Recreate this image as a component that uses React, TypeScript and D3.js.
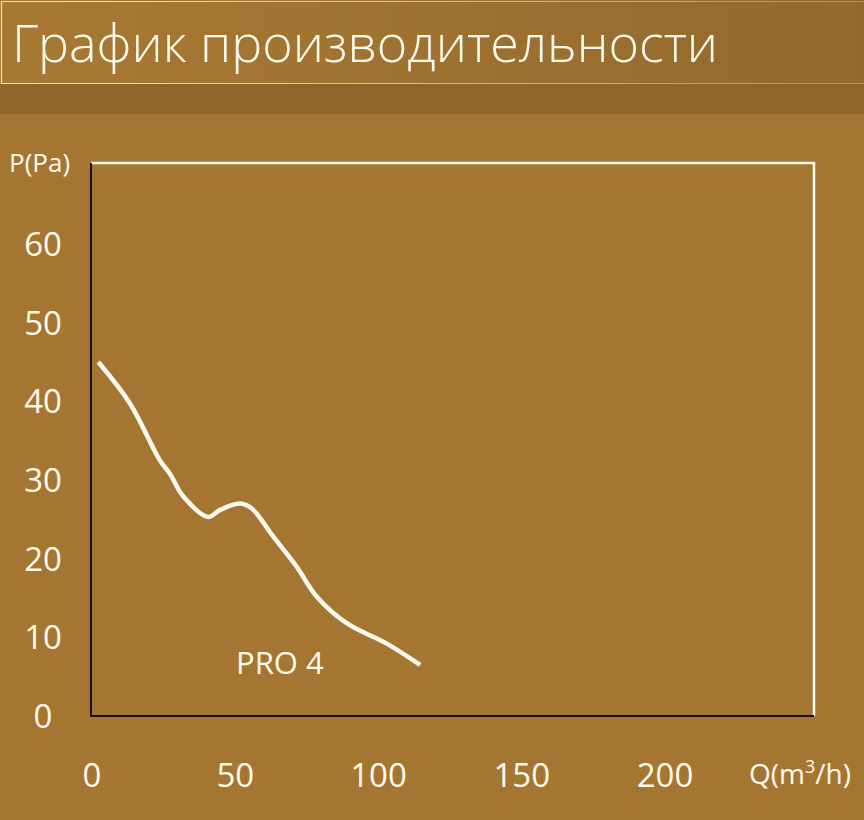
import React, { useEffect, useRef } from 'react';
import * as d3 from 'd3';

// PRO 4 performance curve
const flow = [2.2, 13.3, 23.7, 27.2, 31.9, 40.6, 44.7, 51.7, 55.7, 63.3, 71.4, 78.4, 88.9, 102.9, 114.5];
const pressure = [45.0, 39.7, 32.5, 30.8, 27.9, 25.3, 26.2, 27.0, 26.4, 22.8, 19.0, 15.2, 11.8, 9.2, 6.5];
const xTicks = [0, 50, 100, 150, 200];
const yTicks = [0, 10, 20, 30, 40, 50, 60];
const seriesName = 'PRO 4';
const title = 'График производительности';

const W = 864;
const H = 820;
const bg = '#a57631';
const cream = '#fffaee';
const font = "'Open Sans', sans-serif";

export default function App() {
  const ref = useRef<SVGSVGElement>(null);

  useEffect(() => {
    const svg = d3.select(ref.current);
    svg.selectAll('*').remove();

    const x = d3.scaleLinear().domain([0, 200]).range([92, 665]);
    const y = d3.scaleLinear().domain([0, 60]).range([716, 244]);

    const defs = svg.append('defs');
    const grad = defs.append('linearGradient').attr('id', 'titleGrad')
      .attr('x1', '0%').attr('x2', '100%').attr('y1', '0%').attr('y2', '0%');
    grad.append('stop').attr('offset', '0%').attr('stop-color', '#a87933');
    grad.append('stop').attr('offset', '100%').attr('stop-color', '#936a2d');
    const edge = defs.append('linearGradient').attr('id', 'edgeGrad')
      .attr('x1', '0%').attr('x2', '100%').attr('y1', '0%').attr('y2', '0%');
    edge.append('stop').attr('offset', '0%').attr('stop-color', '#f3e3c0');
    edge.append('stop').attr('offset', '100%').attr('stop-color', '#f3e3c0').attr('stop-opacity', 0.3);

    svg.append('rect').attr('width', W).attr('height', H).attr('fill', bg);

    // header
    svg.append('rect').attr('x', 0).attr('y', 0).attr('width', W).attr('height', 84).attr('fill', 'url(#titleGrad)');
    svg.append('rect').attr('x', 0).attr('y', 84).attr('width', W).attr('height', 30).attr('fill', '#8f652a');
    svg.append('path')
      .attr('d', `M${W},1.5 H1.5 V83.5 H${W}`)
      .attr('fill', 'none')
      .attr('stroke', 'url(#edgeGrad)')
      .attr('stroke-width', 1.2);
    svg.append('text')
      .attr('x', 12).attr('y', 62)
      .attr('fill', cream)
      .style('font-family', font)
      .style('font-weight', 300)
      .style('font-size', '52px')
      .text(title);

    // plot frame: black left/bottom, white top/right
    const left = 91, right = 814, top = 163, bottom = 716;
    svg.append('path')
      .attr('d', `M${left},${top} H${right} V${bottom}`)
      .attr('fill', 'none').attr('stroke', cream).attr('stroke-width', 2.5);
    svg.append('path')
      .attr('d', `M${left},${top} V${bottom} H${right}`)
      .attr('fill', 'none').attr('stroke', '#1a0e04').attr('stroke-width', 2);

    // tick labels
    svg.append('g').selectAll('text').data(yTicks).join('text')
      .attr('x', 43).attr('y', d => y(d))
      .attr('dy', '0.36em')
      .attr('text-anchor', 'middle')
      .attr('fill', cream)
      .style('font-family', font)
      .style('font-size', '33px')
      .text(d => d);

    svg.append('g').selectAll('text').data(xTicks).join('text')
      .attr('x', d => x(d)).attr('y', 775)
      .attr('dy', '0.36em')
      .attr('text-anchor', 'middle')
      .attr('fill', cream)
      .style('font-family', font)
      .style('font-size', '33px')
      .text(d => d);

    svg.append('text')
      .attr('x', 9).attr('y', 172)
      .attr('fill', cream)
      .style('font-family', font)
      .style('font-size', '26px')
      .text('P(Pa)');

    const q = svg.append('text')
      .attr('x', 749).attr('y', 784)
      .attr('fill', cream)
      .style('font-family', font)
      .style('font-size', '28px');
    q.append('tspan').text('Q(m');
    q.append('tspan').attr('dy', -11).style('font-size', '18px').text('3');
    q.append('tspan').attr('dy', 11).text('/h)');

    // curve
    const pts = flow.map((f, i) => [f, pressure[i]] as [number, number]);
    const line = d3.line<[number, number]>()
      .curve(d3.curveCatmullRom)
      .x(d => x(d[0]))
      .y(d => y(d[1]));
    svg.append('path')
      .datum(pts)
      .attr('d', line)
      .attr('fill', 'none')
      .attr('stroke', cream)
      .attr('stroke-width', 4.5)
      .attr('stroke-linejoin', 'round');

    svg.append('text')
      .attr('x', 236).attr('y', 674)
      .attr('fill', cream)
      .style('font-family', font)
      .style('font-size', '31px')
      .text(seriesName);
  }, []);

  return (
    <svg ref={ref} width={W} height={H} style={{ position: 'absolute', left: 0, top: 0 }} />
  );
}
